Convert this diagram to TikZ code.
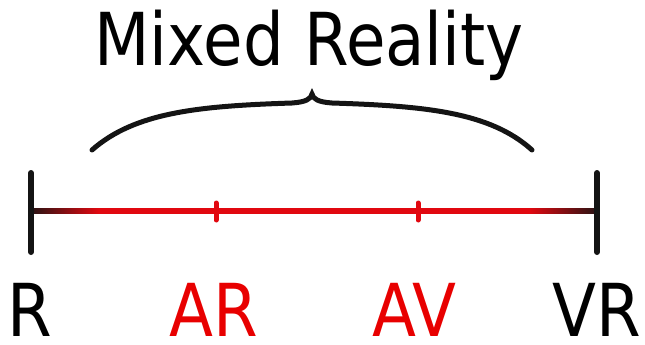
\documentclass[tikz,border=0pt]{standalone}
\usepackage{fontspec}
\setmainfont{DejaVu Sans}[FakeStretch=0.88]
\definecolor{mrred}{RGB}{232,0,0}
\definecolor{mrline}{RGB}{225,8,16}
\definecolor{mrend}{RGB}{40,20,20}
\usetikzlibrary{calc}
\pgfdeclarehorizontalshading{axisfade}{100bp}{color(0bp)=(mrend); color(25bp)=(mrend);
  color(31bp)=(mrline); color(69bp)=(mrline); color(75bp)=(mrend); color(100bp)=(mrend)}

\begin{document}
\begin{tikzpicture}[
  x=1pt, y=-1pt,
  bigtext/.style={font=\fontsize{73}{79}\selectfont, inner sep=0pt, anchor=base},
  endbar/.style={line width=6pt, line cap=round, black!92},
  tick/.style={line width=5pt, line cap=round, mrline},
  brace/.style={line width=5pt, line cap=round, black!92}
]
\useasboundingbox (0,0) rectangle (645,345);

%% --- Title ---
\node[bigtext] (title) at (309,66) {Mixed Reality};

%% --- Brace ---
\coordinate (bl) at (92,150);
\coordinate (bt) at (312,94);
\coordinate (br) at (532,150);
\draw[brace] (bl) .. controls (135,112) and (200,106) .. (292,103)
  .. controls (306,102) and (311,99) .. (bt)
  .. controls (313,99) and (318,102) .. (332,103)
  .. controls (425,106) and (490,112) .. (br);

%% --- Axis ---
\coordinate (left)  at (31,211);
\coordinate (right) at (597,211);
\coordinate (ar)    at (216,211);
\coordinate (av)    at (418,211);
\shade[shading=axisfade] ($(left)+(0,-2.5)$) rectangle ($(right)+(0,2.5)$);
\draw[endbar] ($(left)+(0,-38)$) -- ($(left)+(0,41)$);
\draw[endbar] ($(right)+(0,-38)$) -- ($(right)+(0,41)$);
\draw[tick] ($(ar)+(0,-8)$) -- ($(ar)+(0,9)$);
\draw[tick] ($(av)+(0,-8)$) -- ($(av)+(0,9)$);

%% --- Labels ---
\node[bigtext] (lr)  at (30,336)  {R};
\node[bigtext, text=mrred] (lar) at (214,336) {AR};
\node[bigtext, text=mrred] (lav) at (414,336) {AV};
\node[bigtext] (lvr) at (597,336) {VR};

\end{tikzpicture}
\end{document}
